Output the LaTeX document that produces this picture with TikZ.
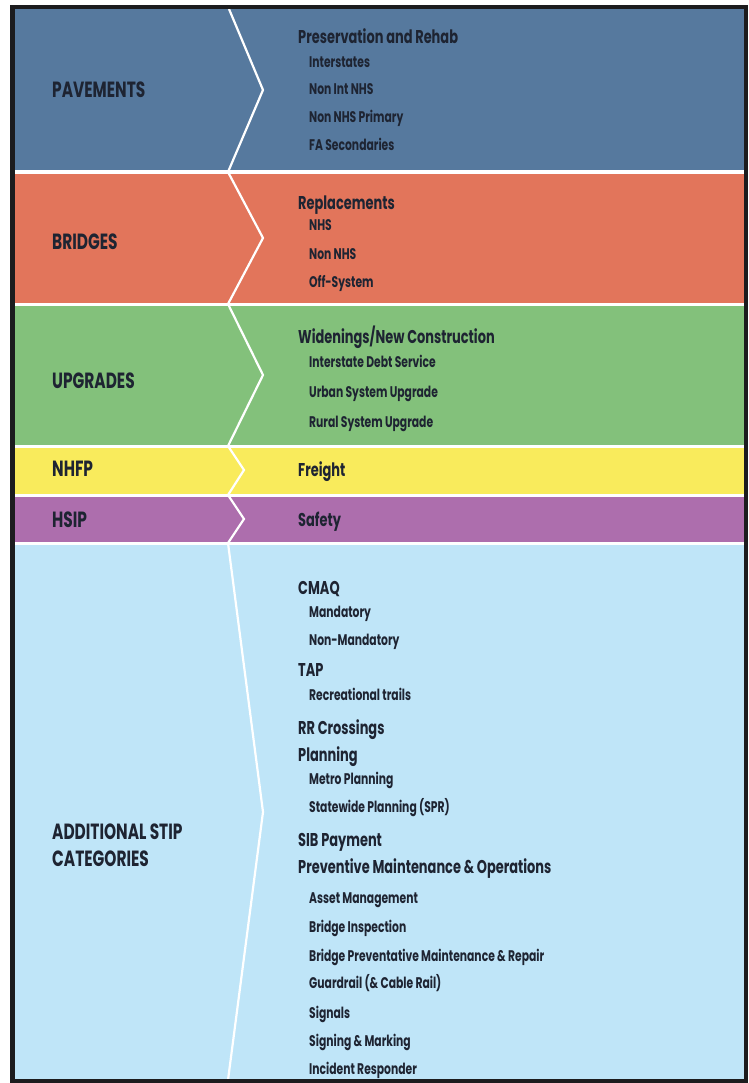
\documentclass[tikz,border=0pt]{standalone}
\usepackage{fontspec}
\setmainfont{Poppins}[FakeStretch=0.70]
\definecolor{pavec}{RGB}{86,121,158}
\definecolor{bridc}{RGB}{226,117,91}
\definecolor{upgc}{RGB}{131,193,123}
\definecolor{nhfc}{RGB}{249,235,92}
\definecolor{hsic}{RGB}{173,110,173}
\definecolor{addc}{RGB}{191,229,248}
\definecolor{ink}{RGB}{30,36,50}
\definecolor{framec}{RGB}{28,28,30}
\tikzset{
  cat/.style={anchor=base west,inner sep=0pt,text=ink,font=\bfseries\fontsize{22}{24}\selectfont},
  mainitem/.style={anchor=base west,inner sep=0pt,text=ink,font=\bfseries\fontsize{18.5}{20}\selectfont},
  subitem/.style={anchor=base west,inner sep=0pt,text=ink,font=\bfseries\fontsize{15.4}{17}\selectfont},
  chev/.style={draw=white,line width=2.2pt,line join=miter},
}
\begin{document}
\begin{tikzpicture}[x=1pt,y=-1pt]
\useasboundingbox (0,0) rectangle (748,1083);
\fill[white] (0,0) rectangle (748,1083);
% bands
\fill[pavec] (14,9) rectangle (744,170.5);
\fill[bridc] (14,174) rectangle (744,302.5);
\fill[upgc] (14,306) rectangle (744,444.5);
\fill[nhfc] (14,448) rectangle (744,493.5);
\fill[hsic] (14,497) rectangle (744,541.5);
\fill[addc] (14,545) rectangle (744,1080);
% chevron line
\draw[chev] (229,9) -- (263,90) -- (228,172) -- (263,238) -- (228,304)
  -- (263,375) -- (228,446) -- (244,470) -- (228,495) -- (244,519)
  -- (228,543) -- (263,812) -- (228,1080);
% frame
\draw[framec,line width=4.5pt] (12.25,7.25) rectangle (745.75,1081);
% category labels
\node[cat] (pav) at (52,98) {PAVEMENTS};
\node[cat] (bri) at (52,249) {BRIDGES};
\node[cat] (upg) at (52,388) {UPGRADES};
\node[cat] (nhf) at (52,476.5) {NHFP};
\node[cat] (hsi) at (52,527) {HSIP};
\node[cat] (add1) at (52,839.5) {ADDITIONAL STIP};
\node[cat] (add2) at (52,866.5) {CATEGORIES};
% pavements
\node[mainitem] (p0) at (298,44) {Preservation and Rehab};
\node[subitem] (p1) at (309,67.5) {Interstates};
\node[subitem] (p2) at (309,94.5) {Non Int NHS};
\node[subitem] (p3) at (309,122.5) {Non NHS Primary};
\node[subitem] (p4) at (309,150.5) {FA Secondaries};
% bridges
\node[mainitem] (b0) at (298,209.5) {Replacements};
\node[subitem] (b1) at (309,231) {NHS};
\node[subitem] (b2) at (309,259) {Non NHS};
\node[subitem] (b3) at (309,287) {Off-System};
% upgrades
\node[mainitem] (u0) at (298,343.5) {Widenings/New Construction};
\node[subitem] (u1) at (309,367) {Interstate Debt Service};
\node[subitem] (u2) at (309,397) {Urban System Upgrade};
\node[subitem] (u3) at (309,427) {Rural System Upgrade};
% nhfp, hsip
\node[mainitem] (n0) at (298,476.5) {Freight};
\node[mainitem] (h0) at (298,526.5) {Safety};
% additional
\node[mainitem] (a1) at (298,594.5) {CMAQ};
\node[subitem] (a2) at (309,617.5) {Mandatory};
\node[subitem] (a3) at (309,645.5) {Non-Mandatory};
\node[mainitem] (a4) at (298,676.5) {TAP};
\node[subitem] (a5) at (309,700.5) {Recreational trails};
\node[mainitem] (a6) at (298,734.5) {RR Crossings};
\node[mainitem] (a7) at (298,761.5) {Planning};
\node[subitem] (a8) at (309,784.5) {Metro Planning};
\node[subitem] (a9) at (309,812.5) {Statewide Planning (SPR)};
\node[mainitem] (a10) at (298,846.5) {SIB Payment};
\node[mainitem] (a11) at (298,873.5) {Preventive Maintenance \& Operations};
\node[subitem] (a12) at (309,903) {Asset Management};
\node[subitem] (a13) at (309,932) {Bridge Inspection};
\node[subitem] (a14) at (309,961) {Bridge Preventative Maintenance \& Repair};
\node[subitem] (a15) at (309,988) {Guardrail (\& Cable Rail)};
\node[subitem] (a16) at (309,1018) {Signals};
\node[subitem] (a17) at (309,1046.5) {Signing \& Marking};
\node[subitem] (a18) at (309,1074) {Incident Responder};
\end{tikzpicture}
\end{document}
